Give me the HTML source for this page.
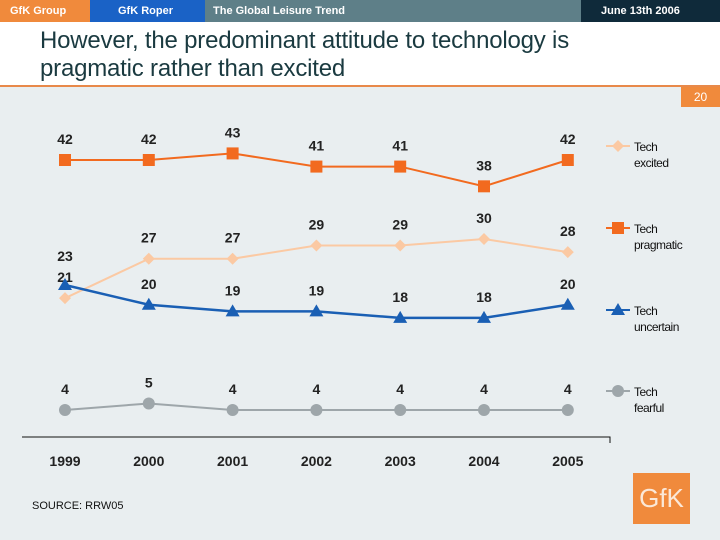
<!DOCTYPE html>
<html><head><meta charset="utf-8"><style>
body{margin:0;width:720px;height:540px;overflow:hidden;background:#e9eef0;font-family:"Liberation Sans",sans-serif}
.hd{position:absolute;top:0;height:22px;color:#fff;font-size:11px;font-weight:bold;line-height:22px}
</style></head><body>
<div class="hd" style="left:0;width:90px;background:#f08a3c;padding-left:10px;box-sizing:border-box">GfK Group</div>
<div class="hd" style="left:90px;width:115px;background:#1a62c6;padding-left:28px;box-sizing:border-box">GfK Roper</div>
<div class="hd" style="left:205px;width:376px;background:#5e7f88;padding-left:8px;box-sizing:border-box">The Global Leisure Trend</div>
<div class="hd" style="left:581px;width:139px;background:#0f2a3a;padding-left:20px;box-sizing:border-box">June 13th 2006</div>
<div style="position:absolute;top:22px;left:0;width:720px;height:63px;background:#fff;border-bottom:2px solid #e8894a"></div>
<div style="position:absolute;top:27px;left:40px;font-size:24px;line-height:28px;color:#1a3a40;letter-spacing:-0.2px">However, the predominant attitude to technology is<br>pragmatic rather than excited</div>
<div style="position:absolute;top:87px;left:681px;width:39px;height:20px;background:#f08a3c;color:#fff;font-size:12px;text-align:center;line-height:20px">20</div>
<div style="position:absolute;top:500px;left:32px;font-size:11px;color:#111">SOURCE: RRW05</div>
<div style="position:absolute;top:473px;left:633px;width:57px;height:51px;background:#f08a3c;color:#fbe8d8;font-size:26px;text-align:center;line-height:51px">GfK</div>
<svg id="c" width="720" height="540" style="position:absolute;left:0;top:0"></svg>
<script>
const years=["1999","2000","2001","2002","2003","2004","2005"];
const pragmatic=[42,42,43,41,41,38,42];
const excited=[21,27,27,29,29,30,28];
const uncertain=[23,20,19,19,18,18,20];
const fearful=[4,5,4,4,4,4,4];
const legendNames=["Tech excited","Tech pragmatic","Tech uncertain","Tech fearful"];
const NS="http://www.w3.org/2000/svg",svg=document.getElementById('c');
const X=i=>65+i*83.8, Y=v=>160+(42-v)*6.58;
function el(t,a,p){const e=document.createElementNS(NS,t);for(const k in a)e.setAttribute(k,a[k]);(p||svg).appendChild(e);return e;}
const axis=el('path',{d:'M22 437H610V443',stroke:'#111',fill:'none','stroke-width':1});


years.forEach((y,i)=>{const t=el('text',{x:X(i),y:466,'text-anchor':'middle','font-size':14,'font-weight':'bold',fill:'#222'});t.textContent=y;

});
const series=[
 {n:'pragmatic',d:pragmatic,c:'#f26a1f',m:'sq',lw:2},
 {n:'excited',d:excited,c:'#fbc9a3',m:'dia',lw:2},
 {n:'uncertain',d:uncertain,c:'#1a5fb4',m:'tri',lw:2.5},
 {n:'fearful',d:fearful,c:'#9ea6aa',m:'dot',lw:2}];
function marker(m,x,y,c,g){
 if(m=='sq')return el('rect',{x:x-6,y:y-6,width:12,height:12,fill:c},g);
 if(m=='dia')return el('path',{d:`M${x} ${y-6}L${x+6} ${y}L${x} ${y+6}L${x-6} ${y}Z`,fill:c},g);
 if(m=='tri')return el('path',{d:`M${x} ${y-7}L${x+7} ${y+5}L${x-7} ${y+5}Z`,fill:c},g);
 return el('circle',{cx:x,cy:y,r:6,fill:c},g);}
series.forEach(s=>{
 const g=el('g',{});
 
 
 el('polyline',{points:s.d.map((v,i)=>X(i)+','+Y(v)).join(' '),fill:'none',stroke:s.c,'stroke-width':s.lw},g);
 s.d.forEach((v,i)=>{const mk=marker(s.m,X(i),Y(v),s.c,g);
  
  
  let ly=Y(v)-16; if(s.n=='uncertain'&&i==0)ly-=8;
  const t=el('text',{x:X(i),y:ly,'text-anchor':'middle','font-size':14,'font-weight':'bold',fill:'#222'},g);t.textContent=v;
  
  });
});
const legOrder=[series[1],series[0],series[2],series[3]],legY=[146,228,310,391];
legOrder.forEach((s,i)=>{const g=el('g',{});
 
 
 el('line',{x1:606,x2:630,y1:legY[i],y2:legY[i],stroke:s.c,'stroke-width':2},g);
 marker(s.m,618,legY[i],s.c,g);
 const w=legendNames[i].split(' ');
 const t1=el('text',{x:634,y:legY[i]+5,'font-size':12,fill:'#111','letter-spacing':'-0.5'},g);t1.textContent=w[0];
 const t2=el('text',{x:634,y:legY[i]+21,'font-size':12,fill:'#111','letter-spacing':'-0.5'},g);t2.textContent=w[1];});
</script>
</body></html>
